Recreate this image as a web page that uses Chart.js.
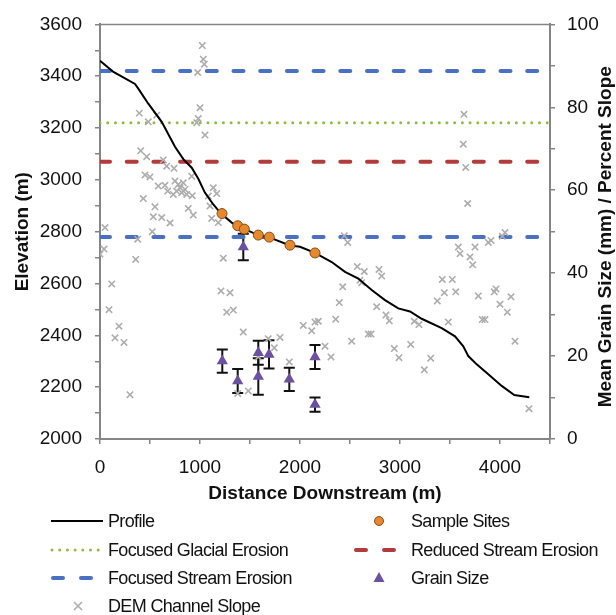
<!DOCTYPE html>
<html>
<head>
<meta charset="utf-8">
<script src="https://cdn.jsdelivr.net/npm/chart.js@4.4.1/dist/chart.umd.min.js"></script>
<style>
    html, body { margin: 0; padding: 0; background: #fff; }
    #wrap { position: relative; width: 616px; height: 615px; overflow: hidden; font-family: "Liberation Sans", Arial, sans-serif; }
    #profileChart { position: absolute; left: 0; top: 0; }
    #swatches { position: absolute; left: 0; top: 0; }
    .lg { position: absolute; font-size: 18px; letter-spacing: -0.65px; line-height: 20px; color: #111; white-space: nowrap; }
</style>
</head>
<body>
<div id="wrap">
    <canvas id="profileChart" width="616" height="505"></canvas>
    <svg id="swatches" width="616" height="615">
        <line x1="51" y1="521" x2="103" y2="521" stroke="#000" stroke-width="2"/>
        <line x1="52" y1="550" x2="100" y2="550" stroke="#8CBF3F" stroke-width="3" stroke-linecap="round" stroke-dasharray="0 7.7"/>
        <line x1="53" y1="578" x2="91" y2="578" stroke="#4A70C2" stroke-width="4" stroke-linecap="round" stroke-dasharray="10 18"/>
        <path d="M74 602 L82 610 M82 602 L74 610" stroke="#ADADAD" stroke-width="1.6"/>
        <circle cx="379" cy="521" r="4.5" fill="#E5892F" stroke="#8A4B12" stroke-width="1"/>
        <line x1="356" y1="550" x2="394" y2="550" stroke="#B23B3B" stroke-width="4" stroke-linecap="round" stroke-dasharray="10 18"/>
        <path d="M379 572 L384.5 582 L373.5 582 Z" fill="#6B51A0"/>
    </svg>
    <div class="lg" style="left:108px;top:511px">Profile</div>
    <div class="lg" style="left:108px;top:540px">Focused Glacial Erosion</div>
    <div class="lg" style="left:108px;top:568px">Focused Stream Erosion</div>
    <div class="lg" style="left:108px;top:596px">DEM Channel Slope</div>
    <div class="lg" style="left:411px;top:511px">Sample Sites</div>
    <div class="lg" style="left:411px;top:540px">Reduced Stream Erosion</div>
    <div class="lg" style="left:411px;top:568px">Grain Size</div>
</div>
<script>
// longitudinal profile (distance m, elevation m)
const profileDist = [0, 130, 350, 383, 483, 617, 750, 833, 917, 983, 1050, 1133, 1210, 1317, 1383, 1433,
    1583, 1693, 1900, 2000, 2150, 2317, 2450, 2583, 2717, 2850, 2983, 3100, 3217, 3417, 3550, 3633,
    3683, 3767, 3883, 4017, 4143, 4293];
const profileElev = [3460, 3418, 3370, 3352, 3294, 3224, 3128, 3080, 3047, 3004, 2950, 2905, 2870, 2835, 2820, 2812,
    2787, 2778, 2747, 2742, 2718, 2683, 2645, 2619, 2575, 2536, 2504, 2492, 2464, 2428, 2396, 2358,
    2320, 2288, 2250, 2205, 2170, 2161];

// sample sites on the profile
const siteDist = [1220, 1377, 1443, 1583, 1693, 1900, 2150];
const siteElev = [2870, 2823, 2810, 2787, 2779, 2748, 2718];

// mean grain size (mm) with error
const grainDist = [1223, 1377, 1433, 1583, 1583, 1690, 1893, 2150, 2150];
const grainSize = [18.8, 14.0, 46.3, 20.8, 15.1, 20.4, 14.4, 19.8, 8.3];
const grainErr = [2.8, 2.9, 3.2, 2.9, 4.4, 3.4, 2.8, 2.9, 1.7];

// DEM channel slope (percent)
const slopeDist = [1023, 1033, 1043, 977, 1000, 983, 967, 1050, 393, 483, 567, 407, 467, 633, 667, 740,
    450, 500, 917, 583, 650, 750, 783, 833, 800, 850, 677, 733, 817, 767, 923, 867, 433, 1133, 1167,
    1083, 550, 1100, 883, 533, 617, 933, 700, 1117, 1183, 50, 523,
    3640, 3633, 3657, 3677, 4050, 2443,
    0, 40, 377, 357, 117, 90, 190, 150, 240, 300, 1233, 1210, 1300, 1267, 1333, 1433, 1483, 1377,
    2477, 2573, 2643, 2600, 2617, 2790, 2817, 2427, 2393, 2767, 2860, 2893, 2357, 2033, 2150, 2183,
    2117, 2517, 2683, 2710, 1800, 1683, 1743, 2250, 2310, 1893, 2943, 1583, 2990,
    3583, 3600, 3750, 3700, 3727, 3883, 3910, 4023, 3423, 3523, 3443, 3557, 3373, 3783, 3943, 3960,
    4110, 4000, 4073, 3823, 3850, 3483, 3143, 3190, 3107, 3307, 3243, 4150, 4290];
const slopeVal = [94.9, 91.6, 90.4, 88.4, 79.9, 77.3, 76.3, 73.3, 78.6, 76.5, 78.1, 69.5, 68.1, 67.3, 65.8, 65.3,
    63.7, 63.2, 63.4, 61.0, 61.2, 62.2, 61.4, 61.8, 60.6, 60.2, 59.8, 59.0, 59.4, 59.8, 58.7, 59.0, 58.0, 60.6, 59.2,
    58.6, 56.0, 56.2, 55.6, 53.6, 53.4, 54.0, 52.1, 53.2, 52.2, 51.0, 50.0,
    78.3, 71.1, 65.5, 56.8, 49.8, 49.0,
    44.6, 45.8, 48.2, 43.3, 37.4, 31.2, 27.2, 24.4, 23.3, 10.7, 43.6, 35.7, 35.3, 30.6, 31.1, 25.8, 11.6, 11.0,
    47.4, 41.6, 40.4, 38.3, 37.7, 40.9, 39.3, 36.7, 32.9, 31.9, 29.9, 28.5, 28.9, 27.4, 28.2, 28.4,
    26.1, 23.6, 25.3, 25.3, 24.5, 24.2, 22.0, 22.4, 19.8, 18.6, 21.8, 19.8, 19.6,
    46.3, 44.7, 46.3, 43.9, 42.0, 47.4, 47.9, 48.9, 38.5, 38.5, 35.3, 35.5, 33.3, 34.5, 35.5, 36.2,
    34.3, 32.5, 30.6, 28.8, 28.8, 28.2, 28.4, 27.6, 22.8, 19.5, 16.7, 23.6, 7.3];

// erosion zone reference levels (elevation m)
const streamLevels = [3420, 2780];
const glacialLevel = 3220;
const reducedLevel = 3070;
const distRange = [0, 4500];

const tickFont = { family: "'Liberation Sans', Arial, sans-serif", size: 19 };
const titleFont = { family: "'Liberation Sans', Arial, sans-serif", size: 19, weight: 'bold' };
const axisGrey = '#858585';

function levelLine(level, color, dash, width) {
    return {
        type: 'line',
        data: distRange.map(d => ({ x: d, y: level })),
        yAxisID: 'y',
        borderColor: color,
        borderWidth: width,
        borderDash: dash,
        borderCapStyle: 'round',
        pointRadius: 0,
        showLine: true,
        fill: false,
        order: 4
    };
}

const errorBars = {
    id: 'errorBars',
    beforeDatasetsDraw(chart) {
        const { ctx, scales: { x, y2 } } = chart;
        ctx.save();
        ctx.strokeStyle = '#111';
        ctx.lineWidth = 2;
        grainDist.forEach((d, i) => {
            const px = x.getPixelForValue(d);
            const top = y2.getPixelForValue(grainSize[i] + grainErr[i]);
            const bot = y2.getPixelForValue(grainSize[i] - grainErr[i]);
            ctx.beginPath();
            ctx.moveTo(px, top); ctx.lineTo(px, bot);
            ctx.moveTo(px - 5.5, top); ctx.lineTo(px + 5.5, top);
            ctx.moveTo(px - 5.5, bot); ctx.lineTo(px + 5.5, bot);
            ctx.stroke();
        });
        ctx.restore();
    }
};

const frame = {
    id: 'frame',
    afterDraw(chart) {
        const { ctx, chartArea } = chart;
        ctx.save();
        ctx.strokeStyle = axisGrey;
        ctx.lineWidth = 1.5;
        ctx.beginPath();
        ctx.moveTo(chartArea.left, chartArea.top);
        ctx.lineTo(chartArea.right, chartArea.top);
        ctx.stroke();
        // right axis title, reads bottom to top
        ctx.translate(606, (chartArea.top + chartArea.bottom) / 2 + 5);
        ctx.rotate(-Math.PI / 2);
        ctx.font = "bold 19px 'Liberation Sans', Arial, sans-serif";
        ctx.fillStyle = '#111';
        ctx.textAlign = 'center';
        ctx.textBaseline = 'middle';
        ctx.fillText('Mean Grain Size (mm) / Percent Slope', 0, 0);
        ctx.restore();
    }
};

new Chart(document.getElementById('profileChart'), {
    type: 'scatter',
    data: {
        datasets: [
            {
                label: 'Sample Sites',
                data: siteDist.map((d, i) => ({ x: d, y: siteElev[i] })),
                yAxisID: 'y',
                pointStyle: 'circle',
                pointRadius: 5,
                backgroundColor: '#E5892F',
                borderColor: '#8A4B12',
                borderWidth: 1,
                order: 0
            },
            {
                label: 'Grain Size',
                data: grainDist.map((d, i) => ({ x: d, y: grainSize[i] })),
                yAxisID: 'y2',
                pointStyle: 'triangle',
                pointRadius: 6.5,
                backgroundColor: '#6B51A0',
                borderColor: '#6B51A0',
                borderWidth: 0,
                order: 1
            },
            {
                type: 'line',
                label: 'Profile',
                data: profileDist.map((d, i) => ({ x: d, y: profileElev[i] })),
                yAxisID: 'y',
                borderColor: '#000',
                borderWidth: 2,
                pointRadius: 0,
                tension: 0,
                showLine: true,
                fill: false,
                order: 2
            },
            {
                label: 'DEM Channel Slope',
                data: slopeDist.map((d, i) => ({ x: d, y: slopeVal[i] })),
                yAxisID: 'y2',
                pointStyle: 'crossRot',
                pointRadius: 4.5,
                borderColor: '#ADADAD',
                borderWidth: 1.6,
                order: 3
            },
            levelLine(streamLevels[0], '#4A70C2', [10, 16.7], 4),
            levelLine(glacialLevel, '#8CBF3F', [0.01, 7.7], 3),
            levelLine(reducedLevel, '#B23B3B', [10, 16.7], 4),
            levelLine(streamLevels[1], '#4A70C2', [10, 16.7], 4)
        ]
    },
    options: {
        responsive: false,
        animation: false,
        devicePixelRatio: 1,
        layout: { padding: { top: 20, left: 0, right: 0, bottom: 0 } },
        plugins: {
            legend: { display: false },
            tooltip: { enabled: false }
        },
        scales: {
            x: {
                type: 'linear',
                min: 0,
                max: 4500,
                afterFit: s => { s.height = 66; },
                ticks: {
                    stepSize: 500,
                    autoSkip: false,
                    maxRotation: 0,
                    padding: 12,
                    color: '#111',
                    font: tickFont,
                    callback: v => (v % 1000 === 0 ? v : '')
                },
                grid: { drawOnChartArea: false, drawTicks: true, tickLength: 5, color: axisGrey, lineWidth: 1.5 },
                border: { color: axisGrey, width: 2 },
                title: { display: true, text: 'Distance Downstream (m)', color: '#111', font: titleFont, padding: { top: 0, bottom: 0 } }
            },
            y: {
                position: 'left',
                min: 2000,
                max: 3600,
                afterFit: s => { s.width = 100; },
                ticks: {
                    stepSize: 100,
                    autoSkip: false,
                    padding: 13,
                    color: '#111',
                    font: tickFont,
                    callback: v => (v % 200 === 0 ? v : '')
                },
                grid: { drawOnChartArea: false, drawTicks: true, tickLength: 5, color: axisGrey, lineWidth: 1.5 },
                border: { color: axisGrey, width: 2 },
                title: { display: true, text: 'Elevation (m)', color: '#111', font: titleFont, padding: { top: 11, bottom: 0 } }
            },
            y2: {
                position: 'right',
                min: 0,
                max: 100,
                afterFit: s => { s.width = 66; },
                ticks: {
                    stepSize: 10,
                    autoSkip: false,
                    padding: 12,
                    color: '#111',
                    font: tickFont,
                    callback: v => (v % 20 === 0 ? v : '')
                },
                grid: { drawOnChartArea: false, drawTicks: true, tickLength: 5, color: axisGrey, lineWidth: 1.5 },
                border: { color: axisGrey, width: 2 }
            }
        }
    },
    plugins: [errorBars, frame]
});
</script>
</body>
</html>
